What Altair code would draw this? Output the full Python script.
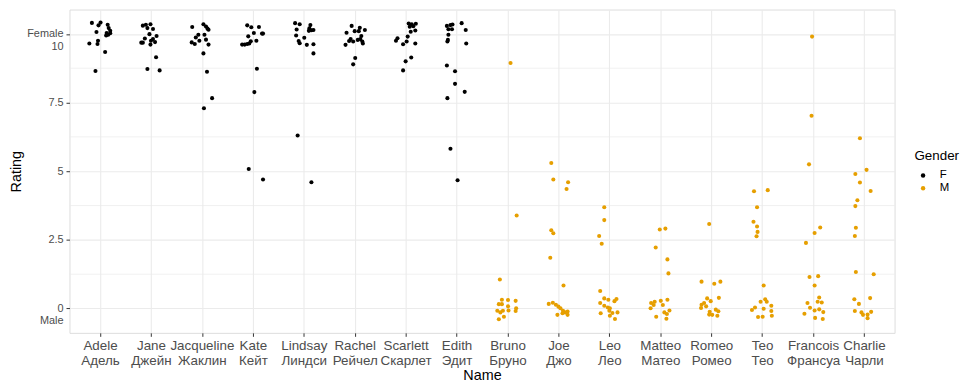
import altair as alt
import pandas as pd

names_en = ["Adele", "Jane", "Jacqueline", "Kate", "Lindsay", "Rachel", "Scarlett", "Edith",
            "Bruno", "Joe", "Leo", "Matteo", "Romeo", "Teo", "Francois", "Charlie"]
names_ru = ["Адель", "Джейн", "Жаклин", "Кейт", "Линдси", "Рейчел", "Скарлет", "Эдит",
            "Бруно", "Джо", "Лео", "Матео", "Ромео", "Тео", "Франсуа", "Чарли"]
genders = ["F", "F", "F", "F", "F", "F", "F", "F", "M", "M", "M", "M", "M", "M", "M", "M"]

adele_jitter = [-0.16, 0.01, -0.03, -0.07, 0.15, 0.17, 0.20, 0.13, 0.12, 0.16, 0.20, -0.04, -0.05, -0.21, 0.10, -0.09]
adele_rating = [10.40, 10.41, 10.31, 10.07, 10.33, 10.21, 10.11, 10.03, 9.94, 9.97, 10.02, 9.75, 9.63, 9.65, 9.34, 8.65]

jane_jitter = [-0.16, -0.10, -0.07, -0.01, 0.04, -0.03, -0.12, -0.19, -0.16, 0.00, 0.04, 0.11, 0.08, -0.01, 0.10, -0.07, 0.17]
jane_rating = [10.30, 10.33, 10.21, 10.35, 10.18, 9.99, 9.83, 9.68, 9.68, 9.75, 9.81, 9.92, 9.70, 9.61, 9.15, 8.72, 8.67]

jacqueline_jitter = [-0.19, 0.03, 0.08, 0.13, 0.11, -0.07, -0.12, 0.05, 0.08, -0.20, -0.14, -0.05, 0.13, 0.03, 0.10, 0.20, 0.04]
jacqueline_rating = [10.25, 10.35, 10.27, 10.15, 10.19, 9.97, 9.87, 9.97, 9.79, 9.69, 9.63, 9.75, 9.61, 9.29, 8.62, 7.66, 7.29]

kate_jitter = [-0.11, -0.03, 0.12, 0.02, 0.18, 0.20, -0.09, -0.21, -0.16, -0.11, -0.07, -0.04, 0.07, 0.08, 0.03, -0.08, 0.20]
kate_rating = [10.31, 10.24, 10.25, 10.03, 10.01, 10.01, 9.91, 9.61, 9.61, 9.63, 9.65, 9.73, 9.75, 8.73, 7.88, 5.08, 4.70]

lindsay_jitter = [-0.17, -0.08, -0.14, 0.13, 0.11, 0.10, 0.15, 0.19, -0.15, 0.01, -0.10, -0.08, 0.06, 0.19, 0.19, -0.12, 0.15]
lindsay_rating = [10.39, 10.35, 10.16, 10.32, 10.20, 10.11, 10.13, 10.14, 9.94, 9.86, 9.74, 9.66, 9.60, 9.62, 9.29, 6.30, 4.60]

rachel_jitter = [-0.06, 0.10, 0.20, 0.00, 0.08, -0.16, 0.13, -0.08, -0.11, -0.03, 0.06, 0.11, 0.15, 0.16, -0.18, 0.01, -0.03]
rachel_rating = [10.29, 10.22, 10.14, 10.10, 10.10, 10.04, 9.92, 9.81, 9.74, 9.72, 9.78, 9.81, 9.72, 9.65, 9.60, 9.12, 8.89]

scarlett_jitter = [0.06, 0.12, 0.20, 0.08, 0.19, 0.10, 0.04, -0.16, -0.19, -0.05, 0.02, 0.19, 0.11, 0.00, -0.05, 0.15]
scarlett_rating = [10.38, 10.35, 10.37, 10.26, 10.12, 10.08, 9.90, 9.84, 9.75, 9.62, 9.72, 9.65, 9.14, 9.00, 8.67, 10.28]

edith_jitter = [-0.19, -0.12, -0.08, -0.16, -0.09, 0.10, 0.18, -0.17, -0.18, 0.19, -0.19, -0.03, -0.03, 0.16, -0.18, -0.12, 0.02, -0.16]
edith_rating = [10.29, 10.32, 10.34, 10.17, 10.17, 10.39, 10.14, 9.78, 9.72, 9.65, 8.85, 8.64, 8.18, 7.89, 7.66, 5.82, 4.67, 9.97]

bruno_jitter = [0.06, 0.18, -0.15, -0.11, 0.01, 0.16, -0.17, -0.11, 0.01, 0.17, 0.16, -0.20, -0.14, -0.09, 0.02, -0.07, -0.17]
bruno_rating = [8.94, 3.39, 1.06, 0.32, 0.31, 0.28, 0.16, 0.16, 0.08, 0.01, -0.09, -0.08, -0.14, -0.08, -0.07, -0.30, -0.39]

joe_jitter = [-0.14, -0.10, 0.19, 0.16, -0.14, -0.10, -0.16, 0.10, -0.19, -0.11, -0.05, 0.00, 0.04, 0.09, 0.13, 0.18, 0.18, -0.02, 0.08]
joe_rating = [5.30, 4.70, 4.60, 4.35, 2.85, 2.74, 1.85, 0.84, 0.17, 0.21, 0.14, 0.07, 0.01, -0.08, -0.14, -0.11, -0.23, -0.23, -0.17]

leo_jitter = [-0.10, -0.10, -0.20, -0.15, -0.18, -0.10, -0.02, 0.10, 0.14, -0.18, -0.10, -0.03, 0.01, 0.00, -0.17, 0.06, 0.16, 0.01, 0.11]
leo_rating = [3.69, 3.22, 2.64, 2.36, 0.64, 0.37, 0.32, 0.27, 0.35, 0.20, 0.10, 0.04, 0.01, -0.08, -0.17, -0.16, -0.14, -0.26, -0.38]

matteo_jitter = [-0.01, 0.10, -0.09, 0.14, 0.16, 0.01, 0.14, -0.18, -0.11, -0.13, 0.05, -0.19, 0.08, 0.13, 0.18, -0.08, 0.12]
matteo_rating = [2.88, 2.91, 2.22, 1.79, 1.28, 0.28, 0.32, 0.20, 0.25, 0.13, 0.13, 0.01, -0.14, -0.20, -0.07, -0.30, -0.37]

romeo_jitter = [-0.04, -0.19, 0.06, 0.18, 0.15, -0.08, -0.01, -0.14, -0.19, -0.10, -0.20, 0.09, 0.14, -0.03, -0.04, 0.02, 0.12]
romeo_rating = [3.08, 0.98, 0.90, 0.98, 0.39, 0.37, 0.27, 0.20, 0.14, 0.08, 0.02, -0.04, -0.10, -0.12, -0.22, -0.23, -0.26]

teo_jitter = [-0.16, 0.11, -0.10, -0.17, -0.10, -0.09, -0.11, 0.03, -0.03, 0.06, 0.09, 0.18, -0.14, -0.20, 0.03, 0.18, 0.19, -0.08, 0.01]
teo_rating = [4.27, 4.31, 3.69, 3.16, 2.99, 2.79, 2.63, 0.84, 0.25, 0.34, 0.25, 0.10, 0.04, -0.05, -0.01, -0.09, -0.26, -0.31, -0.30]

francois_jitter = [-0.02, -0.03, -0.08, 0.14, 0.03, -0.14, -0.07, 0.10, 0.03, 0.12, -0.11, 0.09, 0.17, -0.06, 0.03, 0.12, 0.20, -0.17, 0.04, 0.19]
francois_rating = [9.90, 7.02, 5.25, 2.95, 2.75, 2.39, 1.15, 1.18, 0.84, 0.40, 0.20, 0.25, 0.22, 0.03, -0.07, -0.03, -0.13, -0.19, -0.34, -0.38]

charlie_jitter = [-0.08, 0.05, -0.17, -0.08, 0.13, -0.13, -0.17, -0.16, -0.18, -0.16, 0.19, 0.12, -0.19, -0.10, -0.18, -0.05, -0.02, 0.07, 0.14, 0.07]
charlie_rating = [6.20, 5.05, 4.90, 4.59, 4.28, 3.94, 3.73, 2.94, 2.64, 1.33, 1.25, 0.38, 0.34, 0.17, -0.09, -0.14, -0.23, -0.22, -0.12, -0.35]

y_major_ticks = [0, 2.5, 5, 7.5, 10]
y_minor_grid = [1.25, 3.75, 6.25, 8.75]

jitters = [adele_jitter, jane_jitter, jacqueline_jitter, kate_jitter, lindsay_jitter, rachel_jitter,
           scarlett_jitter, edith_jitter, bruno_jitter, joe_jitter, leo_jitter, matteo_jitter,
           romeo_jitter, teo_jitter, francois_jitter, charlie_jitter]
ratings = [adele_rating, jane_rating, jacqueline_rating, kate_rating, lindsay_rating, rachel_rating,
           scarlett_rating, edith_rating, bruno_rating, joe_rating, leo_rating, matteo_rating,
           romeo_rating, teo_rating, francois_rating, charlie_rating]

rows = []
for i, (jl, rl) in enumerate(zip(jitters, ratings)):
    for j, r in zip(jl, rl):
        rows.append({"pos": i + 1 + j, "Rating": r, "Gender": genders[i], "Name": names_en[i]})
df = pd.DataFrame(rows)
minor_df = pd.DataFrame({"Rating": y_minor_grid})

FONT = "Liberation Sans"
label_arr = "[" + ",".join("['%s','%s']" % (e, r) for e, r in zip(names_en, names_ru)) + "]"
x_label_expr = label_arr + "[round(datum.value) - 1]"
y_label_expr = "datum.value == 10 ? ['Female', '10'] : (datum.value == 0 ? ['0', 'Male'] : format(datum.value, '~g'))"

x_scale = alt.Scale(domain=[0.4, 16.6], nice=False, zero=False)
y_scale = alt.Scale(domain=[-0.885, 10.885], nice=False, zero=False)

y_axis = alt.Axis(title="Rating", values=y_major_ticks, labelExpr=y_label_expr, format="~g",
                  labelFontSize=11, labelColor="#4d4d4d", labelLineHeight=12.5,
                  labelFont=FONT, labelOverlap=False, labelFlush=False, labelPadding=3,
                  tickColor="#333333", tickSize=3.5, tickWidth=1, domain=False,
                  grid=True, gridColor="#ebebeb", gridWidth=1.1,
                  titleFont=FONT, titleFontSize=14.5, titleFontWeight="normal",
                  titleColor="#000000", titlePadding=3)

minor = alt.Chart(minor_df).mark_rule(color="#ebebeb", strokeWidth=0.7).encode(
    y=alt.Y("Rating:Q", scale=y_scale, axis=y_axis)
)

points = alt.Chart(df).mark_circle(size=17, opacity=1).encode(
    x=alt.X("pos:Q", scale=x_scale,
            axis=alt.Axis(title="Name", values=list(range(1, 17)), labelExpr=x_label_expr,
                          labelFontSize=13.5, labelColor="#4d4d4d", labelLineHeight=15,
                          labelFont=FONT, labelOverlap=False, labelFlush=False, labelPadding=2,
                          tickColor="#333333", tickSize=3.5, tickWidth=1, domain=False,
                          grid=True, gridColor="#ebebeb", gridWidth=1.1,
                          titleFont=FONT, titleFontSize=14.5, titleFontWeight="normal",
                          titleColor="#000000", titlePadding=2)),
    y=alt.Y("Rating:Q", scale=y_scale, axis=y_axis),
    color=alt.Color("Gender:N", scale=alt.Scale(domain=["F", "M"], range=["#000000", "#E69F00"]),
                    legend=alt.Legend(title="Gender", orient="none", legendX=852, legendY=141,
                                      titleFont=FONT, titleFontSize=13.5, titleFontWeight="normal",
                                      titleColor="#000000", titlePadding=7, padding=0,
                                      labelFont=FONT, labelFontSize=11.5, labelColor="#000000",
                                      symbolType="circle", symbolSize=20, symbolStrokeWidth=0,
                                      symbolOffset=3, labelOffset=11, rowPadding=0)),
)

chart = alt.layer(minor, points).properties(
    width=832, height=326,
    autosize=alt.AutoSizeParams(type="none"),
    padding={"left": 62, "top": 0, "right": 69, "bottom": 51},
).configure_view(stroke="#7f7f7f", strokeWidth=1).configure(background="white")

chart.save("out.html", embed_options={"renderer": "svg", "actions": False})
